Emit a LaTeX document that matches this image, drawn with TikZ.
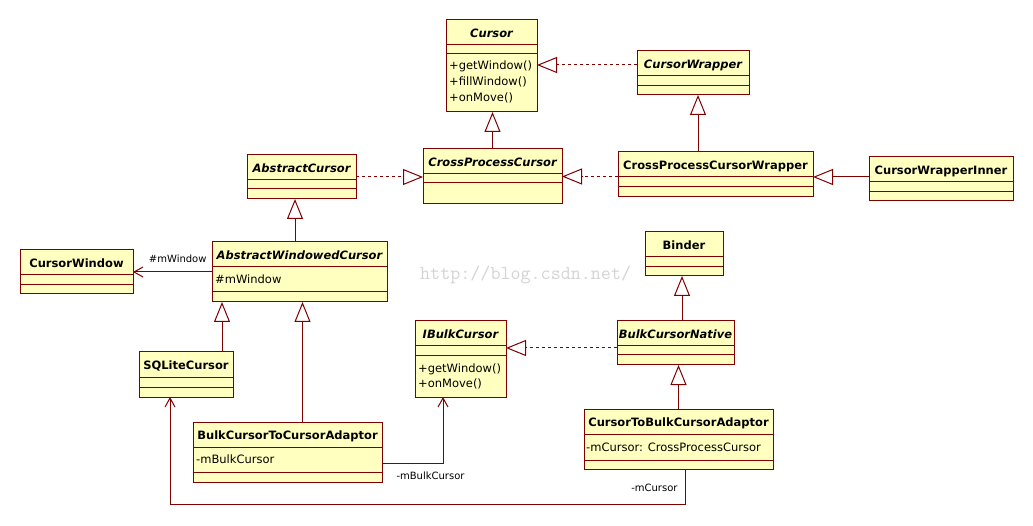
\documentclass[tikz,border=0pt]{standalone}
\usepackage{fontspec}
\setmainfont{DejaVu Sans}
\usetikzlibrary{positioning,arrows.meta,calc}
\definecolor{umlred}{RGB}{128,0,0}
\definecolor{umlfill}{RGB}{255,255,192}
\tikzstyle{umlbox} = [rectangle, draw=umlred, fill=umlfill, line width=1pt, anchor=north west, inner sep=0pt, outer sep=0pt]
\tikzstyle{umlname} = [anchor=base, inner sep=0pt, font=\fontsize{11.5}{14}\selectfont\bfseries]
\tikzstyle{umltext} = [anchor=base west, inner sep=0pt, font=\fontsize{11.5}{14}\selectfont]
\tikzstyle{rolelabel} = [inner sep=0pt, font=\fontsize{10}{12}\selectfont]
\tikzstyle{umlline} = [draw=umlred, line width=1pt]
\tikzstyle{realize} = [umlline, dash pattern=on 3pt off 3pt, -{Triangle[open, length=20pt, width=16pt]}]
\tikzstyle{generalize} = [umlline, -{Triangle[open, length=20pt, width=16pt]}]
\tikzstyle{assoc} = [umlline, -{Straight Barb[length=9pt, width=10pt]}]
% class box: name, top left corner, width, title, attribute height, operation height
\newcommand{\umlclass}[6]{%
  \node (#1) [umlbox, minimum width=#3, minimum height=25+#5+#6] at #2 {};
  \node (#1-name) [umlname] at ([yshift=-17.5pt]#1.north) {#4};
  \draw [umlline] ([yshift=-25pt]#1.north west) -- ([yshift=-25pt]#1.north east);
  \draw [umlline] ([yshift=-25pt-#5pt]#1.north west) -- ([yshift=-25pt-#5pt]#1.north east);
}
\begin{document}
\begin{tikzpicture}[x=1pt, y=-1pt]
  \fill [white] (0,0) rectangle (1033,526);
  \useasboundingbox (0,0) rectangle (1033,526);
  \node (watermark) [anchor=base west, inner sep=0pt, text=black!17, font=\fontsize{19.5}{20}\selectfont\ttfamily] at (420,280) {http://blog.csdn.net/};
  %-----------------------------------------------
  \umlclass{cursor}{(446,20)}{91}{\itshape Cursor}{9}{58}
  \umlclass{cwrap}{(637,51)}{112}{\itshape CursorWrapper}{10}{9}
  \umlclass{cpc}{(423,149)}{139}{\itshape CrossProcessCursor}{9}{21}
  \umlclass{abscur}{(247,155)}{109}{\itshape AbstractCursor}{9}{10}
  \umlclass{cpcw}{(618,152)}{195}{CrossProcessCursorWrapper}{10}{10}
  \umlclass{cwi}{(869,157)}{144}{CursorWrapperInner}{10}{9}
  \umlclass{cwin}{(20,250)}{113}{CursorWindow}{10}{9}
  \umlclass{awc}{(212,242)}{175}{\itshape AbstractWindowedCursor}{25}{10}
  \umlclass{sqlite}{(139,352)}{94}{SQLiteCursor}{10}{10}
  \umlclass{bctca}{(193,422)}{189}{BulkCursorToCursorAdaptor}{25}{10}
  \umlclass{ibc}{(415,321)}{91}{\itshape IBulkCursor}{10}{41}
  \umlclass{bcn}{(617,321)}{117}{\itshape BulkCursorNative}{9}{10}
  \umlclass{binder}{(645,232)}{78}{Binder}{10}{9}
  \umlclass{ctbca}{(584,409)}{189}{CursorToBulkCursorAdaptor}{26}{9}
  %-----------------------------------------------
  \node (cursor-op1) [umltext] at (449,70) {+getWindow()};
  \node (cursor-op2) [umltext] at (449,86) {+fillWindow()};
  \node (cursor-op3) [umltext] at (449,102) {+onMove()};
  \node (ibc-op1) [umltext] at (418,372) {+getWindow()};
  \node (ibc-op2) [umltext] at (418,388) {+onMove()};
  \node (awc-attr) [umltext] at (215,284) {\#mWindow};
  \node (bctca-attr) [umltext] at (196,463) {-mBulkCursor};
  \node (ctbca-attr) [umltext] at (586,451) {-mCursor: CrossProcessCursor};
  %-----------------------------------------------
  \draw [realize] ([yshift=-14pt]cwrap.north west) -- ([yshift=-14pt]cwrap.north west -| cursor.east);
  \draw [generalize] (cpc.north) -- (cpc.north |- cursor.south);
  \draw [realize] (abscur.east) -- (abscur.east -| cpc.west);
  \draw [realize] (cpcw.west |- cpc.east) -- (cpc.east);
  \draw [generalize] ([xshift=5pt]cwrap.south |- cpcw.north) -- ([xshift=5pt]cwrap.south);
  \draw [generalize] ([yshift=2pt]cwi.west) -- ([yshift=2pt]cwi.west -| cpcw.east);
  \draw [generalize] ([xshift=-6.5pt]abscur.south |- awc.north) -- ([xshift=-6.5pt]abscur.south);
  \draw [assoc] (awc.west) -- node [rolelabel, pos=0, anchor=base east, xshift=-5pt, yshift=9pt] {\#mWindow} (cwin.east);
  \draw [generalize] ([xshift=36pt]sqlite.north) -- ([xshift=36pt]sqlite.north |- awc.south);
  \draw [generalize] ([xshift=15pt]bctca.north) -- ([xshift=15pt]bctca.north |- awc.south);
  \draw [assoc] ([yshift=-11pt]bctca.east) -| node [rolelabel, pos=0, anchor=base west, xshift=14pt, yshift=-16pt] {-mBulkCursor} ([xshift=-17.5pt]ibc.south);
  \draw [realize] ([yshift=-27pt]bcn.north west) -- ([yshift=-27pt]bcn.north west -| ibc.east);
  \draw [generalize] ([xshift=-2pt]binder.south |- bcn.north) -- ([xshift=-2pt]binder.south);
  \draw [generalize] (ctbca.north) -- (ctbca.north |- bcn.south);
  \draw [assoc] ([xshift=6.5pt]ctbca.south) -- node [rolelabel, pos=0, anchor=base east, xshift=-7pt, yshift=-22pt] {-mCursor} ++(0,35) -| ([xshift=-16pt]sqlite.south);
\end{tikzpicture}
\end{document}
